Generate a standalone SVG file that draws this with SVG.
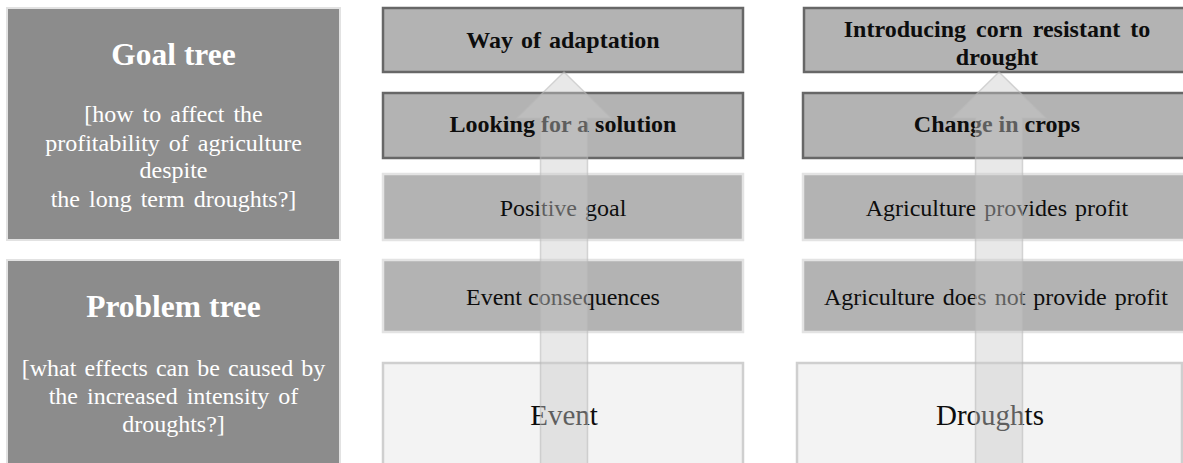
<svg xmlns="http://www.w3.org/2000/svg" width="1183" height="463" viewBox="0 0 1183 463">
  <style>
    text { font-family: "Liberation Serif", "Times New Roman", serif; text-anchor: middle; }
    .panel { fill: #8c8c8c; stroke: #e2e2e2; stroke-width: 2; }
    .panel-title { font-size: 31.5px; font-weight: bold; fill: #ffffff; }
    .panel-text { font-size: 24px; fill: #ffffff; }
    .strong { fill: #b3b3b3; stroke: #676767; stroke-width: 2.5; }
    .soft { fill: #b3b3b3; stroke: #e3e3e3; stroke-width: 2.5; }
    .base { fill: #f3f3f3; stroke: #cfcfcf; stroke-width: 2.5; }
    .bold-label { font-size: 24px; font-weight: bold; fill: #0d0d0d; }
    .label { font-size: 24px; fill: #0d0d0d; }
    .big-label { font-size: 29px; fill: #0d0d0d; }
    .flow { fill: #cacaca; fill-opacity: 0.43; stroke: #b8b8b8; stroke-opacity: 0.55; stroke-width: 1.5; }
  </style>

  <rect x="0" y="0" width="1183" height="463" fill="#ffffff"/>

  <!-- left legend panels -->
  <g id="goal-tree">
    <rect class="panel" x="7" y="8" width="333" height="232"/>
    <text class="panel-title" x="173.5" y="65">Goal tree</text>
    <text class="panel-text" x="173.5" y="122" word-spacing="3">[how to affect the</text>
    <text class="panel-text" x="173.5" y="151" word-spacing="3">profitability of agriculture</text>
    <text class="panel-text" x="173.5" y="178">despite</text>
    <text class="panel-text" x="173.5" y="207" word-spacing="3">the long term droughts?]</text>
  </g>
  <g id="problem-tree">
    <rect class="panel" x="7" y="260" width="333" height="215"/>
    <text class="panel-title" x="173.5" y="317">Problem tree</text>
    <text class="panel-text" x="173.5" y="376" word-spacing="2">[what effects can be caused by</text>
    <text class="panel-text" x="173.5" y="404" word-spacing="3">the increased intensity of</text>
    <text class="panel-text" x="173.5" y="432">droughts?]</text>
  </g>

  <!-- generic column -->
  <g id="way-of-adaptation">
    <rect class="strong" x="383" y="8" width="360" height="64"/>
    <text class="bold-label" x="563" y="48" word-spacing="2">Way of adaptation</text>
  </g>
  <g id="looking-for-solution">
    <rect class="strong" x="383" y="93" width="360" height="65"/>
    <text class="bold-label" x="563" y="132">Looking for a solution</text>
  </g>
  <g id="positive-goal">
    <rect class="soft" x="383" y="174" width="360" height="66"/>
    <text class="label" x="563" y="216" word-spacing="2">Positive goal</text>
  </g>
  <g id="event-consequences">
    <rect class="soft" x="383" y="260" width="360" height="72"/>
    <text class="label" x="563" y="305">Event consequences</text>
  </g>
  <g id="event">
    <rect class="base" x="383" y="363" width="360" height="112"/>
    <text class="big-label" x="564" y="425">Event</text>
  </g>

  <!-- drought column -->
  <g id="corn-resistant">
    <rect class="strong" x="804" y="8" width="392" height="64"/>
    <text class="bold-label" x="997" y="37" word-spacing="4">Introducing corn resistant to</text>
    <text class="bold-label" x="997" y="65">drought</text>
  </g>
  <g id="change-in-crops">
    <rect class="strong" x="803" y="93" width="393" height="65"/>
    <text class="bold-label" x="997" y="132">Change in crops</text>
  </g>
  <g id="provides-profit">
    <rect class="soft" x="803" y="174" width="393" height="66"/>
    <text class="label" x="997" y="216" word-spacing="2">Agriculture provides profit</text>
  </g>
  <g id="no-profit">
    <rect class="soft" x="803" y="260" width="393" height="72"/>
    <text class="label" x="996" y="305" word-spacing="2">Agriculture does not provide profit</text>
  </g>
  <g id="droughts">
    <rect class="base" x="797" y="363" width="385" height="112"/>
    <text class="big-label" x="990" y="425">Droughts</text>
  </g>

  <!-- upward block arrows -->
  <g id="connectors">
    <path class="flow" d="M564 72 L611 118 L587.5 118 L587.5 470 L540.5 470 L540.5 118 L517 118 Z"/>
    <path class="flow" d="M999 72 L1046 118 L1022.5 118 L1022.5 470 L975.5 470 L975.5 118 L952 118 Z"/>
  </g>
</svg>
